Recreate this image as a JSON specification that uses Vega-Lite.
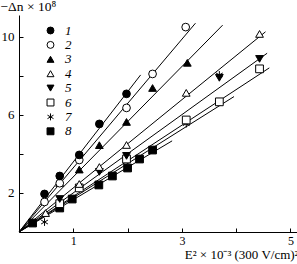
{
  "$schema": "https://vega.github.io/schema/vega-lite/v6.json",
  "width": 278,
  "height": 217,
  "autosize": "none",
  "padding": {"left": 19, "top": 15, "right": 0, "bottom": 32},
  "background": "white",
  "config": {
    "font": "Liberation Serif",
    "view": {"stroke": null},
    "axis": {
      "grid": false,
      "domainColor": "black",
      "tickColor": "black",
      "labelColor": "black",
      "titleColor": "black",
      "labelFont": "Liberation Serif",
      "titleFont": "Liberation Serif",
      "labelFontSize": 13,
      "titleFontSize": 13,
      "titleFontWeight": "normal",
      "tickSize": -4,
      "domainWidth": 1,
      "tickWidth": 1,
      "labelFlush": false,
      "labelOverlap": false
    },
    "legend": {
      "symbolStrokeColor": "black",
      "symbolStrokeWidth": 1,
      "symbolOpacity": 1
    }
  },
  "datasets": {
    "lines": [
      {"s": "1", "x": 0, "y": 0}, {"s": "1", "x": 2.24, "y": 8.05},
      {"s": "2", "x": 0, "y": 0}, {"s": "2", "x": 3.25, "y": 10.7},
      {"s": "3", "x": 0, "y": 0}, {"s": "3", "x": 3.75, "y": 10.6},
      {"s": "4", "x": 0, "y": 0}, {"s": "4", "x": 4.54, "y": 10.26},
      {"s": "5", "x": 0, "y": 0}, {"s": "5", "x": 4.57, "y": 9.16},
      {"s": "6", "x": 0, "y": 0}, {"s": "6", "x": 4.61, "y": 8.41},
      {"s": "7", "x": 0, "y": 0}, {"s": "7", "x": 3.96, "y": 6.94},
      {"s": "8", "x": 0, "y": 0}, {"s": "8", "x": 2.82, "y": 4.67}
    ],
    "points": [
      {"s": "8", "x": 0.25, "y": 0.46}, {"s": "8", "x": 0.75, "y": 1.23}, {"s": "8", "x": 0.98, "y": 1.69}, {"s": "8", "x": 1.47, "y": 2.41}, {"s": "8", "x": 1.72, "y": 2.87}, {"s": "8", "x": 2.0, "y": 3.28}, {"s": "8", "x": 2.22, "y": 3.74}, {"s": "8", "x": 2.46, "y": 4.2},
      {"s": "7", "x": 0.47, "y": 0.51}, {"s": "7", "x": 3.08, "y": 5.55}, {"s": "7", "x": 3.69, "y": 8.05},
      {"s": "6", "x": 0.75, "y": 1.45}, {"s": "6", "x": 1.11, "y": 2.26}, {"s": "6", "x": 1.98, "y": 3.74}, {"s": "6", "x": 3.08, "y": 5.74}, {"s": "6", "x": 3.69, "y": 6.67}, {"s": "6", "x": 4.43, "y": 8.36},
      {"s": "5", "x": 0.75, "y": 1.69}, {"s": "5", "x": 1.48, "y": 3.08}, {"s": "5", "x": 1.98, "y": 3.9}, {"s": "5", "x": 3.69, "y": 7.9}, {"s": "5", "x": 4.43, "y": 8.87},
      {"s": "4", "x": 0.49, "y": 0.97}, {"s": "4", "x": 1.11, "y": 2.46}, {"s": "4", "x": 1.48, "y": 3.33}, {"s": "4", "x": 1.98, "y": 4.46}, {"s": "4", "x": 3.08, "y": 7.13}, {"s": "4", "x": 4.43, "y": 10.15},
      {"s": "3", "x": 0.75, "y": 2.51}, {"s": "3", "x": 1.11, "y": 3.2}, {"s": "3", "x": 1.48, "y": 4.45}, {"s": "3", "x": 1.98, "y": 5.64}, {"s": "3", "x": 2.46, "y": 7.38}, {"s": "3", "x": 3.1, "y": 8.67},
      {"s": "2", "x": 0.47, "y": 1.54}, {"s": "2", "x": 0.75, "y": 2.5}, {"s": "2", "x": 1.11, "y": 3.69}, {"s": "2", "x": 1.98, "y": 6.36}, {"s": "2", "x": 2.46, "y": 8.1}, {"s": "2", "x": 3.07, "y": 10.5},
      {"s": "1", "x": 0.47, "y": 1.95}, {"s": "1", "x": 0.75, "y": 2.87}, {"s": "1", "x": 1.11, "y": 3.95}, {"s": "1", "x": 1.48, "y": 5.54}, {"s": "1", "x": 1.98, "y": 7.08}
    ]
  },
  "layer": [
    {
      "data": {"name": "lines"},
      "mark": {"type": "line", "color": "black", "strokeWidth": 1},
      "encoding": {
        "x": {
          "field": "x", "type": "quantitative",
          "scale": {"domain": [0, 5.12], "nice": false, "zero": false},
          "axis": {
            "values": [1, 2, 3, 4, 5],
            "labelExpr": "datum.value % 2 == 1 ? datum.label : ''",
            "labelPadding": 7,
            "labelFontSize": 12,
            "title": "E² × 10⁻³ (300 V/cm)²",
            "titleFontSize": 13,
            "titleX": 279, "titleY": 26, "titleAlign": "right", "titleBaseline": "alphabetic"
          }
        },
        "y": {
          "field": "y", "type": "quantitative",
          "scale": {"domain": [0, 11.12], "nice": false, "zero": false},
          "axis": {
            "values": [2, 4, 6, 8, 10],
            "labelExpr": "datum.value % 4 == 2 ? datum.label : ''",
            "labelPadding": 9,
            "title": "−Δn × 10⁸",
            "titleFontSize": 13.5,
            "titleAngle": 0, "titleX": -19, "titleY": -5, "titleAlign": "left", "titleBaseline": "alphabetic"
          }
        },
        "detail": {"field": "s"}
      }
    },
    {
      "data": {"name": "points"},
      "mark": {"type": "point", "filled": true, "stroke": "black", "strokeWidth": 1, "size": 60, "opacity": 1, "fillOpacity": 1, "strokeOpacity": 1},
      "encoding": {
        "x": {"field": "x", "type": "quantitative"},
        "y": {"field": "y", "type": "quantitative"},
        "shape": {
          "field": "s", "type": "nominal",
          "scale": {
            "domain": ["1", "2", "3", "4", "5", "6", "7", "8"],
            "range": ["circle", "circle", "triangle-up", "triangle-up", "triangle-down", "square", "M0,-1V1M-0.87,-0.5L0.87,0.5M-0.87,0.5L0.87,-0.5", "square"]
          },
          "legend": {"orient": "none", "legendX": 25, "legendY": 9, "title": null, "padding": 0, "labelFontSize": 13, "labelFontStyle": "italic", "labelFont": "Liberation Serif", "labelColor": "black", "symbolSize": 48, "symbolStrokeColor": "black", "symbolStrokeWidth": 1, "rowPadding": 0.4, "labelOffset": 8,
            "encode": {"symbols": {"update": {"stroke": {"value": "black"}, "strokeWidth": {"value": 1}, "strokeOpacity": {"value": 1}, "opacity": {"value": 1}}}}}
        },
        "fill": {
          "field": "s", "type": "nominal",
          "scale": {
            "domain": ["1", "2", "3", "4", "5", "6", "7", "8"],
            "range": ["black", "white", "black", "white", "black", "white", "white", "black"]
          },
          "legend": {"orient": "none", "legendX": 25, "legendY": 9, "title": null, "padding": 0, "labelFontSize": 13, "labelFontStyle": "italic", "labelFont": "Liberation Serif", "labelColor": "black", "symbolSize": 48, "symbolStrokeColor": "black", "symbolStrokeWidth": 1, "rowPadding": 0.4, "labelOffset": 8,
            "encode": {"symbols": {"update": {"stroke": {"value": "black"}, "strokeWidth": {"value": 1}, "strokeOpacity": {"value": 1}, "opacity": {"value": 1}}}}}
        }
      }
    }
  ]
}
